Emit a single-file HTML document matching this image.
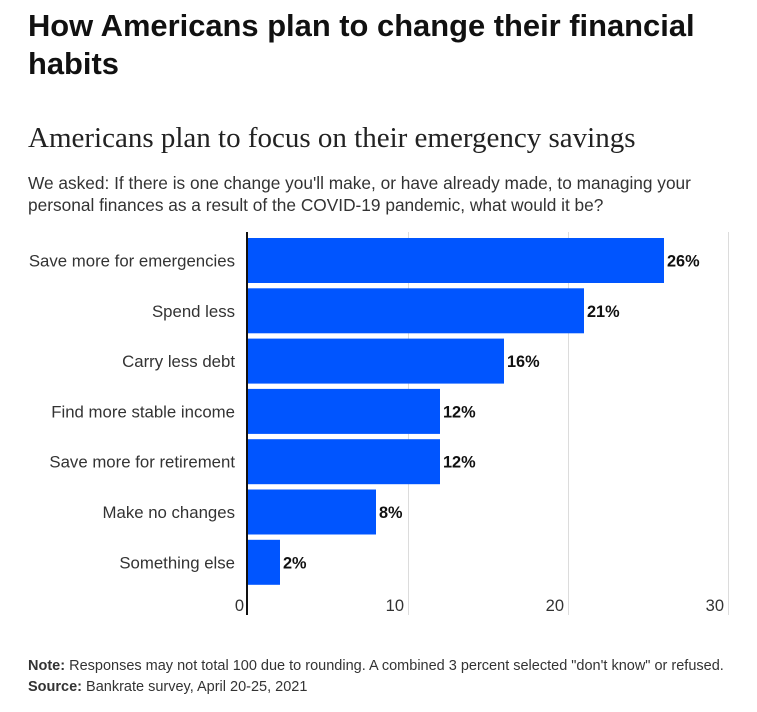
<!DOCTYPE html>
<html><head><meta charset="utf-8"><style>
body{margin:0;background:#fff;width:757px;height:712px;overflow:hidden;font-family:"Liberation Sans",sans-serif;}
h1{position:absolute;left:28px;top:7px;margin:0;font-size:30.9px;line-height:38px;font-weight:bold;color:#111;width:720px;}
h2{position:absolute;left:28px;top:122px;margin:0;font-family:"Liberation Serif",serif;font-weight:normal;font-size:29px;color:#222;white-space:nowrap;}
.desc{position:absolute;left:28px;top:172px;font-size:17.3px;line-height:22px;color:#333;width:700px;}
.foot{position:absolute;left:28px;top:656px;font-size:14.5px;line-height:21px;color:#333;white-space:nowrap;}
svg{position:absolute;left:0;top:0;}
</style></head><body>
<h1>How Americans plan to change their financial habits</h1>
<h2>Americans plan to focus on their emergency savings</h2>
<div class="desc">We asked: If there is one change you'll make, or have already made, to managing your<br>personal finances as a result of the COVID-19 pandemic, what would it be?</div>
<svg id="chart" width="757" height="712"></svg>
<div class="foot"><b>Note:</b> Responses may not total 100 due to rounding. A combined 3 percent selected "don't know" or refused.<br><b>Source:</b> Bankrate survey, April 20-25, 2021</div>
<script>
const categories=["Save more for emergencies","Spend less","Carry less debt","Find more stable income","Save more for retirement","Make no changes","Something else"];
const values=[26,21,16,12,12,8,2];
const ticks=[0,10,20,30];
const NS="http://www.w3.org/2000/svg";
const svg=document.getElementById('chart');
const x0=248,unit=16,top0=238,pitch=50.3,bh=45;
const xs=v=>x0+v*unit;
function mk(t,a){const e=document.createElementNS(NS,t);for(const k in a)e.setAttribute(k,a[k]);svg.appendChild(e);return e;}
ticks.forEach(t=>{
  if(t>0){const g=mk('line',{x1:xs(t)+0.5,x2:xs(t)+0.5,y1:232,y2:615,stroke:'#dcdcdc','stroke-width':1});
  
  }
  const l=mk('text',{x:xs(t)-4,y:611,'text-anchor':'end','font-size':16.5,fill:'#333'});
  l.textContent=t;
  
  
});
values.forEach((v,i)=>{
  const y=top0+i*pitch;
  const r=mk('rect',{x:x0,y:y,width:xs(v)-x0,height:bh,fill:'#0055ff'});
  
  
  const c=mk('text',{x:235,y:y+bh/2+6,'text-anchor':'end','font-size':16.8,fill:'#333'});
  c.textContent=categories[i];
  
  
  const t=mk('text',{x:xs(v)+3,y:y+bh/2+6,'font-size':16.3,'font-weight':'bold',fill:'#111'});
  t.textContent=v+'%';
  
  
});
const ax=mk('line',{x1:247,x2:247,y1:232,y2:615,stroke:'#111','stroke-width':2});


</script>
</body></html>
